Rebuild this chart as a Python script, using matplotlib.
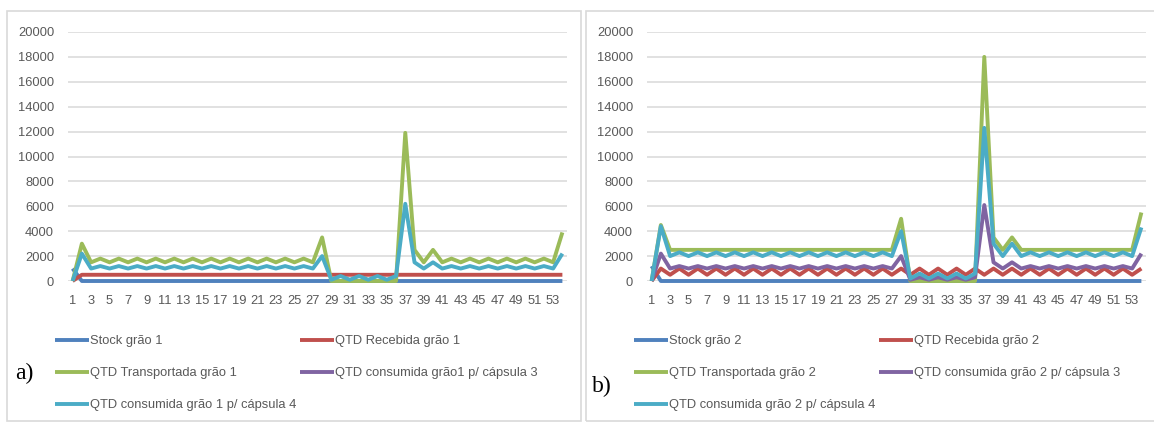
"""
Weekly quantities per grain type (two panels, a) grão 1 and b) grão 2):
stock, received, transported and consumed per capsule.
Output: out.png (1154 x 426 px)
"""

import matplotlib
matplotlib.use("Agg")
import matplotlib.pyplot as plt
from matplotlib.patches import Rectangle

plt.rcParams["font.family"] = ["Liberation Sans", "DejaVu Sans"]

W, H = 1154, 426

# ── data ────────────────────────────────────────────────────────────────
weeks = list(range(1, 55))
tick_weeks = list(range(1, 54, 2))
y_ticks = [0, 2000, 4000, 6000, 8000, 10000, 12000, 14000, 16000, 18000, 20000]

# panel a) grão 1
stock_g1 = [
    1000, 0, 0, 0, 0, 0, 0, 0, 0, 0,
    0, 0, 0, 0, 0, 0, 0, 0, 0, 0,
    0, 0, 0, 0, 0, 0, 0, 0, 0, 0,
    0, 0, 0, 0, 0, 0, 0, 0, 0, 0,
    0, 0, 0, 0, 0, 0, 0, 0, 0, 0,
    0, 0, 0, 0,
]
recebida_g1 = [
    0, 500, 500, 500, 500, 500, 500, 500, 500, 500,
    500, 500, 500, 500, 500, 500, 500, 500, 500, 500,
    500, 500, 500, 500, 500, 500, 500, 500, 500, 500,
    500, 500, 500, 500, 500, 500, 500, 500, 500, 500,
    500, 500, 500, 500, 500, 500, 500, 500, 500, 500,
    500, 500, 500, 500,
]
transportada_g1 = [
    0, 3000, 1500, 1800, 1500, 1800, 1500, 1800, 1500, 1800,
    1500, 1800, 1500, 1800, 1500, 1800, 1500, 1800, 1500, 1800,
    1500, 1800, 1500, 1800, 1500, 1800, 1500, 3500, 0, 0,
    0, 0, 0, 0, 0, 0, 11900, 2500, 1500, 2500,
    1500, 1800, 1500, 1800, 1500, 1800, 1500, 1800, 1500, 1800,
    1500, 1800, 1500, 3900,
]
cap3_g1 = []  # series has no values in the source chart
cap4_g1 = [
    0, 2200, 1000, 1200, 1000, 1200, 1000, 1200, 1000, 1200,
    1000, 1200, 1000, 1200, 1000, 1200, 1000, 1200, 1000, 1200,
    1000, 1200, 1000, 1200, 1000, 1200, 1000, 2000, 100, 400,
    100, 400, 100, 400, 100, 400, 6200, 1500, 1000, 1500,
    1000, 1200, 1000, 1200, 1000, 1200, 1000, 1200, 1000, 1200,
    1000, 1200, 1000, 2200,
]

# panel b) grão 2
stock_g2 = [
    1200, 0, 0, 0, 0, 0, 0, 0, 0, 0,
    0, 0, 0, 0, 0, 0, 0, 0, 0, 0,
    0, 0, 0, 0, 0, 0, 0, 0, 0, 0,
    0, 0, 0, 0, 0, 0, 0, 0, 0, 0,
    0, 0, 0, 0, 0, 0, 0, 0, 0, 0,
    0, 0, 0, 0,
]
recebida_g2 = [
    0, 1000, 500, 1000, 500, 1000, 500, 1000, 500, 1000,
    500, 1000, 500, 1000, 500, 1000, 500, 1000, 500, 1000,
    500, 1000, 500, 1000, 500, 1000, 500, 1000, 500, 1000,
    500, 1000, 500, 1000, 500, 1000, 500, 1000, 500, 1000,
    500, 1000, 500, 1000, 500, 1000, 500, 1000, 500, 1000,
    500, 1000, 500, 1000,
]
transportada_g2 = [
    0, 4500, 2500, 2500, 2500, 2500, 2500, 2500, 2500, 2500,
    2500, 2500, 2500, 2500, 2500, 2500, 2500, 2500, 2500, 2500,
    2500, 2500, 2500, 2500, 2500, 2500, 2500, 5000, 0, 0,
    0, 0, 0, 0, 0, 0, 18000, 3500, 2500, 3500,
    2500, 2500, 2500, 2500, 2500, 2500, 2500, 2500, 2500, 2500,
    2500, 2500, 2500, 5500,
]
cap3_g2 = [
    0, 2200, 1000, 1200, 1000, 1200, 1000, 1200, 1000, 1200,
    1000, 1200, 1000, 1200, 1000, 1200, 1000, 1200, 1000, 1200,
    1000, 1200, 1000, 1200, 1000, 1200, 1000, 2000, 100, 300,
    100, 300, 100, 300, 100, 300, 6100, 1500, 1000, 1500,
    1000, 1200, 1000, 1200, 1000, 1200, 1000, 1200, 1000, 1200,
    1000, 1200, 1000, 2200,
]
cap4_g2 = [
    0, 4400, 2000, 2300, 2000, 2300, 2000, 2300, 2000, 2300,
    2000, 2300, 2000, 2300, 2000, 2300, 2000, 2300, 2000, 2300,
    2000, 2300, 2000, 2300, 2000, 2300, 2000, 4000, 200, 600,
    200, 600, 200, 600, 200, 600, 12300, 3000, 2000, 3000,
    2000, 2300, 2000, 2300, 2000, 2300, 2000, 2300, 2000, 2300,
    2000, 2300, 2000, 4300,
]

labels_g1 = ["Stock grão 1", "QTD Recebida grão 1", "QTD Transportada grão 1",
             "QTD consumida grão1 p/ cápsula 3", "QTD consumida grão 1 p/ cápsula 4"]
labels_g2 = ["Stock grão 2", "QTD Recebida grão 2", "QTD Transportada grão 2",
             "QTD consumida grão 2 p/ cápsula 3", "QTD consumida grão 2 p/ cápsula 4"]

COLORS = ["#4F81BD", "#C0504D", "#9BBB59", "#8064A2", "#4BACC6"]
GRID = "#D9D9D9"
TXT = "#595959"
FS = 9.3
LW = 2.8


def fx(px):
    return px / W


def fy(py):
    return 1 - py / H


def draw_panel(fig, x0, x1, series, labels, letter, letter_xy, legend_x, colspace):
    ax = fig.add_axes([fx(x0), fy(281), fx(x1 - x0), (281 - 32) / H])
    handles = []
    for vals, lab, col in zip(series, labels, COLORS):
        xs = weeks[:len(vals)]
        h, = ax.plot(xs, vals, color=col, lw=LW, label=lab, clip_on=False,
                     solid_joinstyle="round", solid_capstyle="butt", zorder=3)
        handles.append(h)

    ax.set_xlim(0.5, 54.5)
    ax.set_ylim(0, 20000)
    ax.set_yticks(y_ticks)
    ax.set_yticklabels([str(v) for v in y_ticks])
    ax.set_xticks(tick_weeks)
    ax.set_xticklabels([str(v) for v in tick_weeks])
    ax.tick_params(length=0, labelsize=FS, labelcolor=TXT)
    ax.tick_params(axis="x", pad=10)
    ax.tick_params(axis="y", pad=10)
    ax.grid(axis="y", color=GRID, lw=1.1, zorder=0)
    ax.set_axisbelow(True)
    for sp in ax.spines.values():
        sp.set_visible(False)

    # row-major legend order for two columns
    order = [0, 2, 4, 1, 3]
    fig.legend(handles=[handles[i] for i in order],
               labels=[labels[i] for i in order],
               loc="upper left", bbox_to_anchor=(fx(legend_x), fy(335)),
               ncol=2, frameon=False, fontsize=FS, labelcolor=TXT,
               handlelength=2.6, handletextpad=0.1, columnspacing=colspace,
               labelspacing=1.55, borderpad=0, borderaxespad=0)

    fig.text(fx(letter_xy[0]), fy(letter_xy[1]), letter,
             family="Liberation Serif", fontsize=17, color="black",
             va="center", ha="left")
    return ax


fig = plt.figure(figsize=(W / 100, H / 100), dpi=100)

# panel frames
fig.add_artist(Rectangle((fx(7), fy(421)), fx(581 - 7), (421 - 11) / H,
                         transform=fig.transFigure, fill=False, ec=GRID, lw=1.2))
fig.add_artist(Rectangle((fx(586), fy(421)), fx(1170 - 586), (421 - 11) / H,
                         transform=fig.transFigure, fill=False, ec=GRID, lw=1.2))

draw_panel(fig, 68, 567,
           [stock_g1, recebida_g1, transportada_g1, cap3_g1, cap4_g1],
           labels_g1, "a)", (15, 373), 55, 0.3)
draw_panel(fig, 647, 1146,
           [stock_g2, recebida_g2, transportada_g2, cap3_g2, cap4_g2],
           labels_g2, "b)", (592, 386), 634, 0.3)

fig.savefig("out.png", dpi=100)
